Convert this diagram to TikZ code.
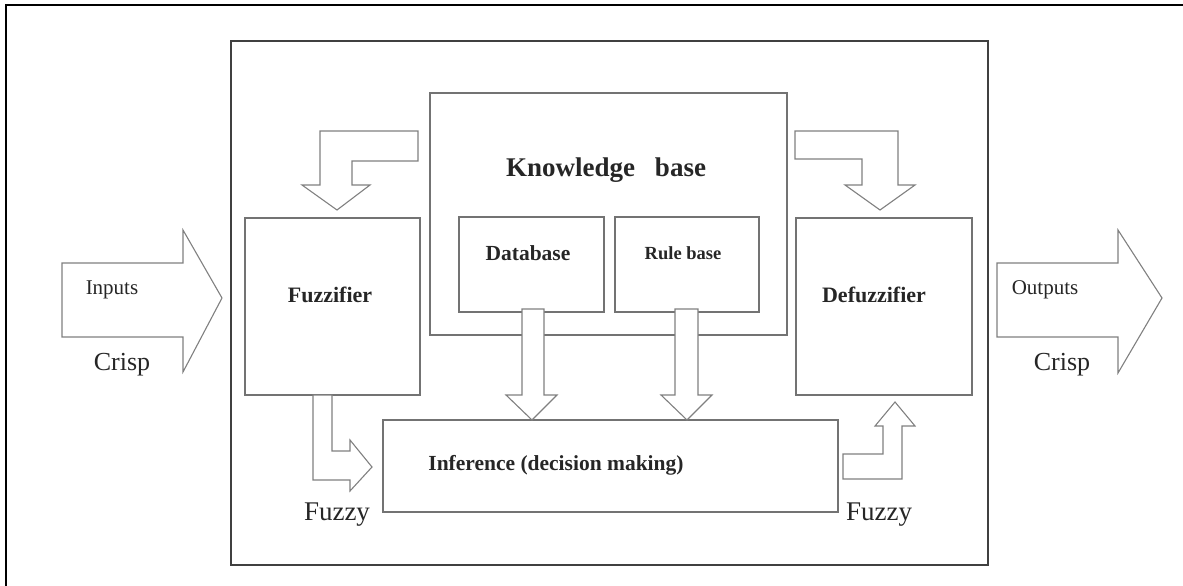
\documentclass[tikz,border=0pt]{standalone}
\usepackage{fontspec}
\setmainfont{Liberation Serif}
\usetikzlibrary{calc}

\tikzset{
  box/.style={draw=black!55, line width=1.2pt, inner sep=0pt, outer sep=0pt},
  blockarrow/.style={draw=black!50, line width=1.1pt, fill=white, line join=miter},
  boldlbl/.style={font=\bfseries\fontsize{#1}{#1}\selectfont, text=black!85},
  lbl/.style={font=\fontsize{#1}{#1}\selectfont, text=black!85},
}

\begin{document}
\begin{tikzpicture}[x=1pt, y=-1pt]
    \useasboundingbox (0,0) rectangle (1183,586);

    % Frame
    \draw[line width=2pt] (6,586) -- (6,5) -- (1183,5);

    % Boxes
    \node[box, draw=black!75, line width=2.2pt, minimum width=757, minimum height=524] (fls) at (609.5,303) {};
    \node[box, minimum width=357, minimum height=242] (kb) at (608.5,214) {};
    \node[box, minimum width=145, minimum height=95] (db) at (531.5,264.5) {};
    \node[box, minimum width=144, minimum height=95] (rb) at (687,264.5) {};
    \node[box, minimum width=175, minimum height=177] (fuzz) at (332.5,306.5) {};
    \node[box, minimum width=176, minimum height=177] (defuzz) at (884,306.5) {};
    \node[box, minimum width=455, minimum height=92] (inf) at (610.5,466) {};

    % Arrows
    \draw[blockarrow] ($(fls.west)+(-9,-5)$) -- ++(-39,74) -- ++(0,-35) -- ++(-121,0)
        -- ++(0,-74) -- ++(121,0) -- ++(0,-33) -- cycle;
    \draw[blockarrow] ($(fls.east)+(174,-5)$) -- ++(-44,75) -- ++(0,-36) -- ++(-121,0)
        -- ++(0,-74) -- ++(121,0) -- ++(0,-33) -- cycle;
    \draw[blockarrow] ($(fuzz.north)+(4.5,-8)$) -- ++(33,-25) -- ++(-18,0) -- ++(0,-24)
        -- ++(66,0) -- ++(0,-30) -- ++(-98,0) -- ++(0,54) -- ++(-18,0) -- cycle;
    \draw[blockarrow] ($(defuzz.north)+(-4,-8)$) -- ++(35,-25) -- ++(-17,0) -- ++(0,-54)
        -- ++(-103,0) -- ++(0,28) -- ++(67,0) -- ++(0,26) -- ++(-17,0) -- cycle;
    \draw[blockarrow] ($(fuzz.south west)+(68,0)$) -- ++(0,85) -- ++(37,0) -- ++(0,11)
        -- ++(22,-24) -- ++(-22,-27) -- ++(0,11) -- ++(-18,0) -- ++(0,-56) -- cycle;
    \draw[blockarrow] ($(inf.east)+(5,-12)$) -- ++(40,0) -- ++(0,-28) -- ++(-8,0)
        -- ++(20,-24) -- ++(20,24) -- ++(-13,0) -- ++(0,53) -- ++(-59,0) -- cycle;
    \draw[blockarrow] ($(db.south)+(-9.5,-3)$) -- ++(0,86) -- ++(-16,0) -- ++(26,25)
        -- ++(25,-25) -- ++(-13,0) -- ++(0,-86) -- cycle;
    \draw[blockarrow] ($(rb.south)+(-12,-3)$) -- ++(0,86) -- ++(-14,0) -- ++(26,25)
        -- ++(25,-25) -- ++(-14,0) -- ++(0,-86) -- cycle;

    % Labels
    \node[boldlbl=27] (kbname) at (606,170) {Knowledge\hspace{20pt}base};
    \node[boldlbl=21.5] (dbname) at (528,253) {Database};
    \node[boldlbl=18.5] (rbname) at (683,253) {Rule base};
    \node[boldlbl=22] (fuzzname) at (330,295) {Fuzzifier};
    \node[boldlbl=22] (defuzzname) at (874,295) {Defuzzifier};
    \node[boldlbl=21.5] (infname) at (556,465) {Inference (decision making)};
    \node[lbl=21] (inputs) at (112,290) {Inputs};
    \node[lbl=26] (crispin) at (122,365) {Crisp};
    \node[lbl=21] (outputs) at (1045,290) {Outputs};
    \node[lbl=26] (crispout) at (1062,365) {Crisp};
    \node[lbl=27] (fuzzyin) at (337,515) {Fuzzy};
    \node[lbl=27] (fuzzyout) at (879,515) {Fuzzy};
\end{tikzpicture}
\end{document}
